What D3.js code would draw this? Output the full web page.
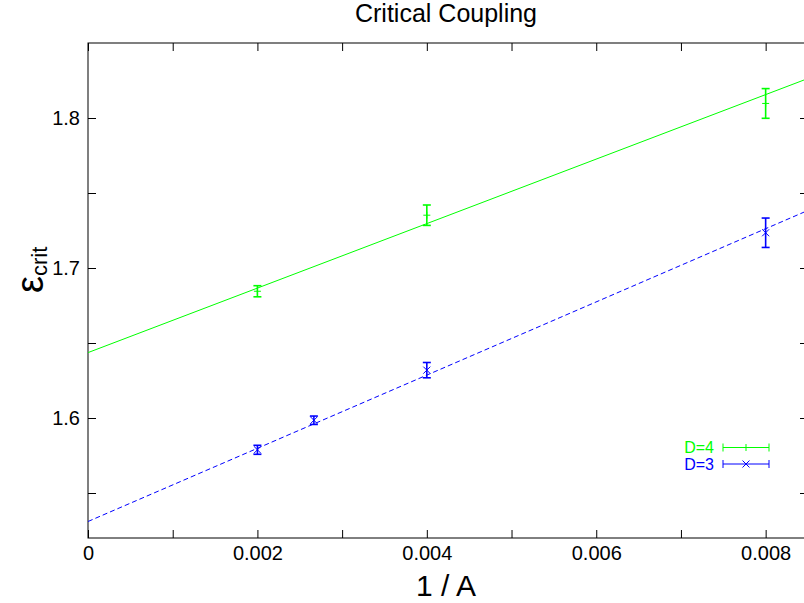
<!DOCTYPE html>
<html>
<head>
<meta charset="utf-8">
<script src="https://cdn.jsdelivr.net/npm/d3@7"></script>
<style>
  body { margin: 0; background: #fff; }
  svg { font-family: "Liberation Sans", Arial, sans-serif; }
</style>
</head>
<body>
<div id="chart-area"></div>
<script>
// data
var xD4 = [0.002, 0.004, 0.008];
var yD4 = [1.6845, 1.7352, 1.8097];
var eD4 = [0.0037, 0.0068, 0.0099];

var xD3 = [0.002, 0.0026667, 0.004, 0.008];
var yD3 = [1.5788, 1.5985, 1.6319, 1.7235];
var eD3 = [0.003, 0.0028, 0.0051, 0.0098];

// linear fits: [intercept, slope]
var fitD4 = [1.6436, 21.5];
var fitD3 = [1.531, 24.4];

var xTicks = [0, 0.001, 0.002, 0.003, 0.004, 0.005, 0.006, 0.007, 0.008];
var xLabels = [0, 0.002, 0.004, 0.006, 0.008];
var yTicks = [1.55, 1.6, 1.65, 1.7, 1.75, 1.8];
var yLabels = [1.6, 1.7, 1.8];

var margin = { left: 88, right: -4, top: 43, bottom: 65 };
var W = 804, H = 603;
var width = W - margin.left - margin.right,
    height = H - margin.top - margin.bottom;

var svg = d3.select("#chart-area")
    .append("svg")
        .attr("width", W)
        .attr("height", H);

var g = svg.append("g")
    .attr("transform", "translate(" + margin.left + "," + margin.top + ")");

var x = d3.scaleLinear()
    .domain([0, 0.0085])
    .range([0, width]);

var y = d3.scaleLinear()
    .domain([1.52, 1.85])
    .range([height, 0]);

g.append("clipPath").attr("id", "clip")
  .append("rect").attr("width", width).attr("height", height);

var fmtX = function(d){ return xLabels.indexOf(d) >= 0 ? (d === 0 ? "0" : d3.format(".3f")(d)) : ""; };
var fmtY = function(d){ return yLabels.some(function(v){ return Math.abs(v - d) < 1e-9; }) ? d3.format(".1f")(d) : ""; };

// axes, ticks inward like gnuplot
var tk = 8;
var axes = [
  g.append("g").attr("transform", "translate(0," + height + ")")
    .call(d3.axisBottom(x).tickValues(xTicks).tickSize(-tk).tickPadding(8).tickFormat(fmtX)),
  g.append("g")
    .call(d3.axisTop(x).tickValues(xTicks).tickSize(-tk).tickFormat("")),
  g.append("g")
    .call(d3.axisLeft(y).tickValues(yTicks).tickSize(-tk).tickPadding(8).tickFormat(fmtY)),
  g.append("g").attr("transform", "translate(" + width + ",0)")
    .call(d3.axisRight(y).tickValues(yTicks).tickSize(-tk).tickFormat(""))
];
axes.forEach(function(a){
  a.select(".domain").remove();
  a.selectAll("line").attr("stroke", "#000");
  a.selectAll("text").attr("font-size", "20px").attr("fill", "#000")
    .attr("font-family", "Liberation Sans, Arial, sans-serif");
});

g.append("rect")
    .attr("width", width).attr("height", height)
    .attr("fill", "none").attr("stroke", "#000").attr("stroke-width", 1);

// fit lines
var plot = g.append("g").attr("clip-path", "url(#clip)");
var fitLine = function(p){
  return d3.line()
    .x(function(d){ return x(d); })
    .y(function(d){ return y(p[0] + p[1] * d); })(x.domain());
};
plot.append("path").attr("d", fitLine(fitD4))
    .attr("fill", "none").attr("stroke", "#00ff00").attr("stroke-width", 1);
plot.append("path").attr("d", fitLine(fitD3))
    .attr("fill", "none").attr("stroke", "#0000ff").attr("stroke-width", 1)
    .attr("stroke-dasharray", "5,3");

// error bars + markers
function series(xs, ys, es, color, marker){
  var pts = xs.map(function(v, i){ return { x: v, y: ys[i], e: es[i] }; });
  var s = plot.append("g").attr("stroke", color).attr("fill", "none");
  var cap = 4, m = 3.5;
  pts.forEach(function(d){
    var cx = x(d.x), lo = y(d.y - d.e), hi = y(d.y + d.e), cy = y(d.y);
    s.append("line").attr("x1", cx).attr("x2", cx).attr("y1", lo).attr("y2", hi).attr("stroke-width", 1.6);
    s.append("line").attr("x1", cx - cap).attr("x2", cx + cap).attr("y1", lo).attr("y2", lo).attr("stroke-width", 1.6);
    s.append("line").attr("x1", cx - cap).attr("x2", cx + cap).attr("y1", hi).attr("y2", hi).attr("stroke-width", 1.6);
    if (marker === "+") {
      s.append("line").attr("x1", cx - m).attr("x2", cx + m).attr("y1", cy).attr("y2", cy);
      s.append("line").attr("x1", cx).attr("x2", cx).attr("y1", cy - m).attr("y2", cy + m);
    } else {
      s.append("line").attr("x1", cx - m).attr("x2", cx + m).attr("y1", cy - m).attr("y2", cy + m);
      s.append("line").attr("x1", cx - m).attr("x2", cx + m).attr("y1", cy + m).attr("y2", cy - m);
    }
  });
}
series(xD4, yD4, eD4, "#00ff00", "+");
series(xD3, yD3, eD3, "#0000ff", "x");

// legend
var legend = [
  { label: "D=4", color: "#00ff00", marker: "+", yy: 447.5 },
  { label: "D=3", color: "#0000ff", marker: "x", yy: 464 }
];
legend.forEach(function(l){
  svg.append("text").attr("x", 714).attr("y", l.yy + 5.5)
    .attr("text-anchor", "end").attr("font-size", "16px").attr("fill", l.color).text(l.label);
  var lg = svg.append("g").attr("stroke", l.color);
  lg.append("line").attr("x1", 723).attr("x2", 769).attr("y1", l.yy).attr("y2", l.yy);
  lg.append("line").attr("x1", 723).attr("x2", 723).attr("y1", l.yy - 4).attr("y2", l.yy + 4);
  lg.append("line").attr("x1", 769).attr("x2", 769).attr("y1", l.yy - 4).attr("y2", l.yy + 4);
  var cx = 746, m = 3.5;
  if (l.marker === "+") {
    lg.append("line").attr("x1", cx).attr("x2", cx).attr("y1", l.yy - m).attr("y2", l.yy + m);
  } else {
    lg.append("line").attr("x1", cx - m).attr("x2", cx + m).attr("y1", l.yy - m).attr("y2", l.yy + m);
    lg.append("line").attr("x1", cx - m).attr("x2", cx + m).attr("y1", l.yy + m).attr("y2", l.yy - m);
  }
});

// title and labels
svg.append("text").attr("x", 446).attr("y", 22)
    .attr("text-anchor", "middle").attr("font-size", "25px").text("Critical Coupling");

svg.append("text").attr("x", 446).attr("y", 596)
    .attr("text-anchor", "middle").attr("font-size", "30px").text("1 / A");

var yl = svg.append("text")
    .attr("transform", "translate(43,293) rotate(-90)")
    .attr("font-size", "38px");
yl.append("tspan").text("ε");
yl.append("tspan").attr("font-size", "22px").attr("dy", 4).text("crit");
</script>
</body>
</html>
